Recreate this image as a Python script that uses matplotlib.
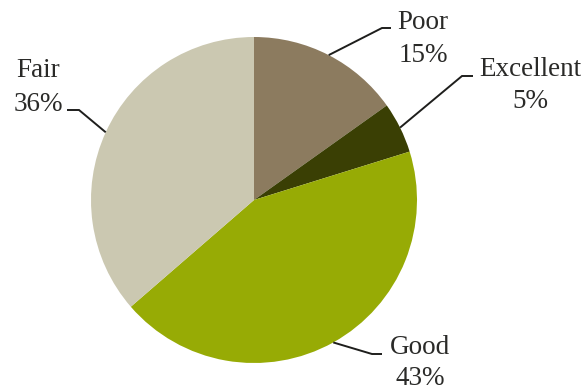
import numpy as np
import matplotlib
matplotlib.use("Agg")
import matplotlib.pyplot as plt

# Self-rated condition shares
categories = ["Poor", "Excellent", "Good", "Fair"]
shares = [15, 5, 43, 36]
colors = ["#8C7B5F", "#3A3F04", "#97AB05", "#CBC8B1"]

W, H = 587, 390
fig = plt.figure(figsize=(W / 100, H / 100), dpi=100)
ax = fig.add_axes([0, 0, 1, 1])

cx, cy, r = 254, H - 200, 163
wedges, _ = ax.pie(shares, colors=colors, startangle=90, counterclock=False,
                   center=(cx, cy), radius=r, frame=True,
                   wedgeprops=dict(linewidth=0))
ax.set_xlim(0, W)
ax.set_ylim(0, H)
ax.set_aspect("equal")
ax.axis("off")

font = dict(family=["Liberation Serif", "DejaVu Serif"], size=19.5,
            color="#2a2a28")

# label layout: elbow, end of horizontal tick, text centre x, baselines
layout = {
    "Poor":      ((382, 28), (391, 28), 423, (29, 62)),
    "Excellent": ((462, 76), (473, 76), 530, (76, 108)),
    "Good":      ((372, 354), (382, 354), 420, (354, 385)),
    "Fair":      ((79, 110), (67, 110), 38, (77, 111)),
}

for w, name, val in zip(wedges, categories, shares):
    mid = np.deg2rad((w.theta1 + w.theta2) / 2)
    sx, sy = cx + r * np.cos(mid), cy + r * np.sin(mid)
    (ex, ey), (hx, hy), tx, (b1, b2) = layout[name]
    ax.plot([sx, ex, hx], [sy, H - ey, H - hy], color="#1e1e1c", lw=1.4,
            solid_capstyle="butt", solid_joinstyle="miter")
    ax.text(tx, H - b1, name, ha="center", va="baseline", **font)
    ax.text(tx, H - b2, f"{val}%", ha="center", va="baseline", **font)

fig.savefig("out.png", dpi=100)
